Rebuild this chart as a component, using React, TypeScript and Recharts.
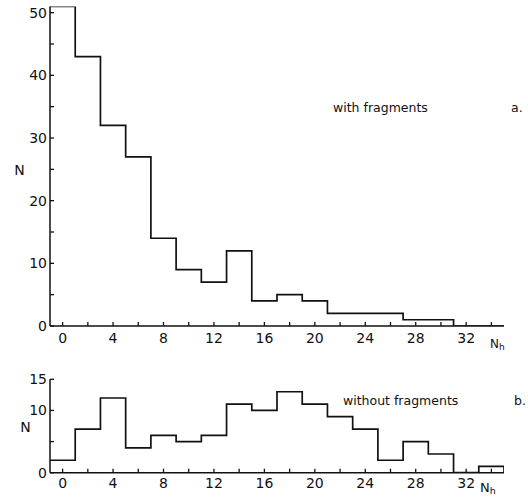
import { ComposedChart, Line, XAxis, YAxis } from 'recharts';

// histogram bins are 2 wide, centred on even N_h
const binCenters = [0, 2, 4, 6, 8, 10, 12, 14, 16, 18, 20, 22, 24, 26, 28, 30, 32, 34];
const withFragments = [51, 43, 32, 27, 14, 9, 7, 12, 4, 5, 4, 2, 2, 2, 1, 1, 0, 0];
const withoutFragments = [2, 7, 12, 4, 6, 5, 6, 11, 10, 13, 11, 9, 7, 2, 5, 3, 0, 1];

const xLabelled = [0, 4, 8, 12, 16, 20, 24, 28, 32];
const topYTicks = [0, 5, 10, 15, 20, 25, 30, 35, 40, 45, 50];
const topYLabelled = [0, 10, 20, 30, 40, 50];
const bottomYTicks = [0, 5, 10, 15];
const bottomYLabelled = [0, 10, 15];

const ink = '#111';
const font = '"DejaVu Sans", Verdana, sans-serif';

// points at the left bin edges, closed at the right end, drawn with stepAfter
function toSteps(counts: number[]) {
  const pts = binCenters.map((c, i) => ({ nh: c - 1, n: counts[i] }));
  pts.push({ nh: binCenters[binCenters.length - 1] + 1, n: 0 });
  return pts;
}

interface PanelProps {
  counts: number[];
  height: number;
  top: number;
  marginTop: number;
  marginBottom: number;
  xAxisHeight: number;
  xTickMargin: number;
  yMax: number;
  yTicks: number[];
  yLabelled: number[];
}

function Panel(p: PanelProps) {
  const tick = { fill: ink, fontSize: 14, fontFamily: font };
  return (
    <div style={{ position: 'absolute', left: 0, top: p.top }}>
      <ComposedChart
        width={528}
        height={p.height}
        data={toSteps(p.counts)}
        margin={{ top: p.marginTop, right: 24, bottom: p.marginBottom, left: 20 }}
      >
        <XAxis
          dataKey="nh"
          type="number"
          domain={[-1, 35]}
          ticks={binCenters}
          interval={0}
          allowDataOverflow
          height={p.xAxisHeight}
          tickSize={-4}
          tickMargin={p.xTickMargin}
          axisLine={{ stroke: ink, strokeWidth: 1.5 }}
          tickLine={{ stroke: ink, strokeWidth: 1.3 }}
          tick={tick}
          tickFormatter={(v: number) => (xLabelled.includes(v) ? String(v) : '')}
        />
        <YAxis
          type="number"
          domain={[0, p.yMax]}
          ticks={p.yTicks}
          interval={0}
          allowDataOverflow
          width={30}
          tickSize={-4}
          tickMargin={7}
          axisLine={{ stroke: ink, strokeWidth: 1.5 }}
          tickLine={{ stroke: ink, strokeWidth: 1.3 }}
          tick={tick}
          tickFormatter={(v: number) => (p.yLabelled.includes(v) ? String(v) : '')}
        />
        <Line
          type="stepAfter"
          dataKey="n"
          stroke={ink}
          strokeWidth={1.7}
          dot={false}
          activeDot={false}
          isAnimationActive={false}
        />
      </ComposedChart>
    </div>
  );
}

export default function App() {
  const label = { fill: ink, fontFamily: font };
  return (
    <div style={{ position: 'absolute', left: 0, top: 0, width: 528, height: 501, background: '#fff' }}>
      <Panel
        counts={withFragments}
        height={360}
        top={0}
        marginTop={6.4}
        marginBottom={4}
        xAxisHeight={30}
        xTickMargin={11}
        yMax={51}
        yTicks={topYTicks}
        yLabelled={topYLabelled}
      />
      <Panel
        counts={withoutFragments}
        height={141}
        top={360}
        marginTop={19.3}
        marginBottom={4.3}
        xAxisHeight={24}
        xTickMargin={9.5}
        yMax={15}
        yTicks={bottomYTicks}
        yLabelled={bottomYLabelled}
      />
      <svg width={528} height={501} style={{ position: 'absolute', left: 0, top: 0, pointerEvents: 'none' }}>
        <text x={19.5} y={175} textAnchor="middle" fontSize={14} {...label}>N</text>
        <text x={490} y={348} fontSize={12} {...label}>
          N<tspan fontSize={9} dy={2}>h</tspan>
        </text>
        <text x={333} y={112} fontSize={12.5} {...label}>with  fragments</text>
        <text x={511} y={112} fontSize={12.5} {...label}>a.</text>

        <text x={25.5} y={432} textAnchor="middle" fontSize={14} {...label}>N</text>
        <text x={480} y={492} fontSize={13} {...label}>
          N<tspan fontSize={9.5} dy={2}>h</tspan>
        </text>
        <text x={343} y={405} fontSize={12.5} {...label}>without  fragments</text>
        <text x={514} y={405} fontSize={12.5} {...label}>b.</text>
      </svg>
    </div>
  );
}
